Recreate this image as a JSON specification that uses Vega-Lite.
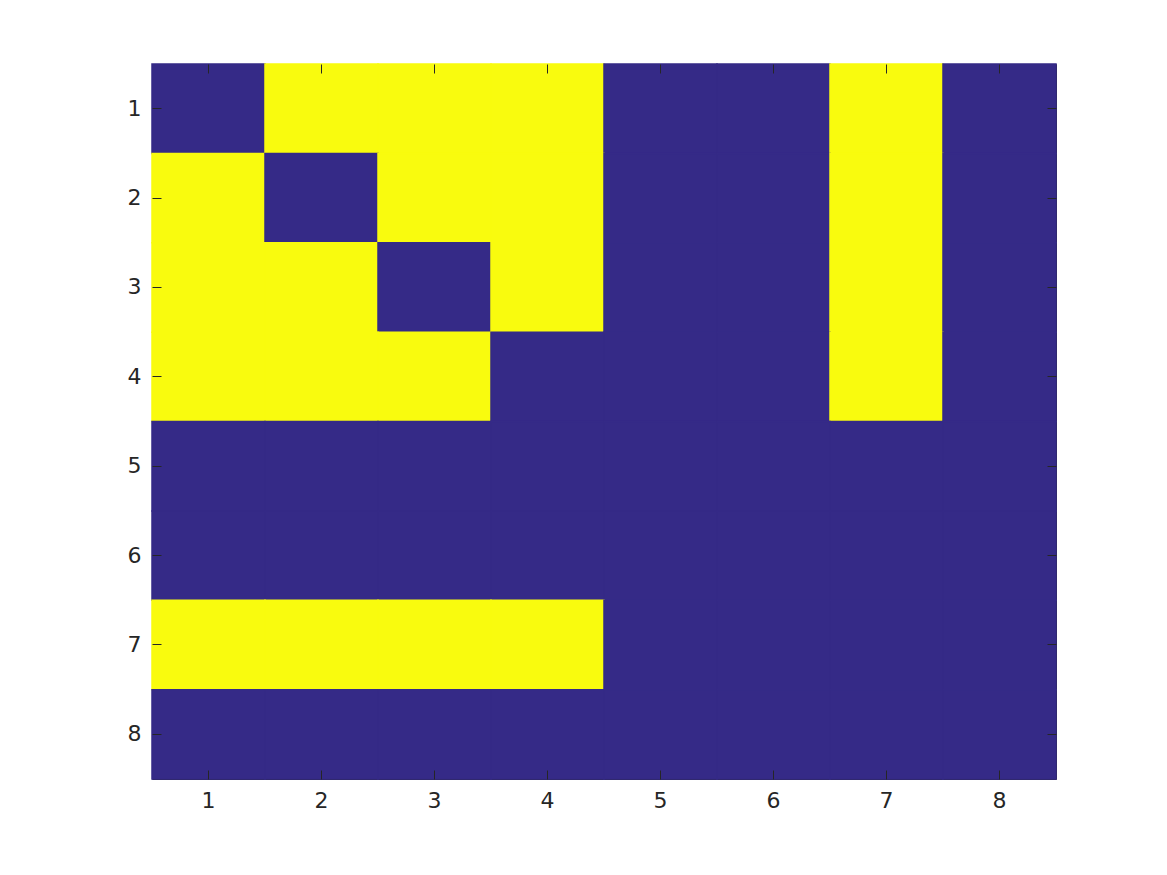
{
  "$schema": "https://vega.github.io/schema/vega-lite/v6.json",
  "autosize": {"type": "none"},
  "padding": {"left": 152, "top": 64, "right": 111, "bottom": 97},
  "width": 904,
  "height": 715,
  "background": "white",
  "config": {
    "view": {"stroke": "#262626", "strokeWidth": 1},
    "axis": {
      "labelFont": "DejaVu Sans",
      "labelFontSize": 22,
      "labelColor": "#262626",
      "tickColor": "#262626",
      "domain": false,
      "grid": false,
      "title": null,
      "labelAngle": 0
    }
  },
  "data": {"values": [
    {"row": 1, "col": 1, "v": 0}, {"row": 1, "col": 2, "v": 1}, {"row": 1, "col": 3, "v": 1}, {"row": 1, "col": 4, "v": 1}, {"row": 1, "col": 5, "v": 0}, {"row": 1, "col": 6, "v": 0}, {"row": 1, "col": 7, "v": 1}, {"row": 1, "col": 8, "v": 0},
    {"row": 2, "col": 1, "v": 1}, {"row": 2, "col": 2, "v": 0}, {"row": 2, "col": 3, "v": 1}, {"row": 2, "col": 4, "v": 1}, {"row": 2, "col": 5, "v": 0}, {"row": 2, "col": 6, "v": 0}, {"row": 2, "col": 7, "v": 1}, {"row": 2, "col": 8, "v": 0},
    {"row": 3, "col": 1, "v": 1}, {"row": 3, "col": 2, "v": 1}, {"row": 3, "col": 3, "v": 0}, {"row": 3, "col": 4, "v": 1}, {"row": 3, "col": 5, "v": 0}, {"row": 3, "col": 6, "v": 0}, {"row": 3, "col": 7, "v": 1}, {"row": 3, "col": 8, "v": 0},
    {"row": 4, "col": 1, "v": 1}, {"row": 4, "col": 2, "v": 1}, {"row": 4, "col": 3, "v": 1}, {"row": 4, "col": 4, "v": 0}, {"row": 4, "col": 5, "v": 0}, {"row": 4, "col": 6, "v": 0}, {"row": 4, "col": 7, "v": 1}, {"row": 4, "col": 8, "v": 0},
    {"row": 5, "col": 1, "v": 0}, {"row": 5, "col": 2, "v": 0}, {"row": 5, "col": 3, "v": 0}, {"row": 5, "col": 4, "v": 0}, {"row": 5, "col": 5, "v": 0}, {"row": 5, "col": 6, "v": 0}, {"row": 5, "col": 7, "v": 0}, {"row": 5, "col": 8, "v": 0},
    {"row": 6, "col": 1, "v": 0}, {"row": 6, "col": 2, "v": 0}, {"row": 6, "col": 3, "v": 0}, {"row": 6, "col": 4, "v": 0}, {"row": 6, "col": 5, "v": 0}, {"row": 6, "col": 6, "v": 0}, {"row": 6, "col": 7, "v": 0}, {"row": 6, "col": 8, "v": 0},
    {"row": 7, "col": 1, "v": 1}, {"row": 7, "col": 2, "v": 1}, {"row": 7, "col": 3, "v": 1}, {"row": 7, "col": 4, "v": 1}, {"row": 7, "col": 5, "v": 0}, {"row": 7, "col": 6, "v": 0}, {"row": 7, "col": 7, "v": 0}, {"row": 7, "col": 8, "v": 0},
    {"row": 8, "col": 1, "v": 0}, {"row": 8, "col": 2, "v": 0}, {"row": 8, "col": 3, "v": 0}, {"row": 8, "col": 4, "v": 0}, {"row": 8, "col": 5, "v": 0}, {"row": 8, "col": 6, "v": 0}, {"row": 8, "col": 7, "v": 0}, {"row": 8, "col": 8, "v": 0}
  ]},
  "layer": [
    {
      "mark": {"type": "rect", "strokeWidth": 1.5, "strokeOpacity": 1},
      "encoding": {
        "x": {"field": "col", "type": "ordinal", "scale": {"paddingInner": 0, "paddingOuter": 0},
              "axis": {"orient": "bottom", "tickSize": -9, "labelPadding": 20, "labelFontSize": 22}},
        "y": {"field": "row", "type": "ordinal", "scale": {"paddingInner": 0, "paddingOuter": 0},
              "axis": {"orient": "left", "tickSize": -9, "labelPadding": 20, "labelFontSize": 22}},
        "fill": {"field": "v", "type": "nominal", "legend": null,
                  "scale": {"domain": [0, 1], "range": ["#352A87", "#F9FB0E"]}},
        "stroke": {"field": "v", "type": "nominal", "legend": null,
                  "scale": {"domain": [0, 1], "range": ["#352A87", "#F9FB0E"]}}
      }
    },
    {
      "mark": {"type": "rect", "opacity": 0},
      "encoding": {
        "x": {"field": "col", "type": "ordinal", "axis": {"orient": "top", "tickSize": -9, "labels": false}},
        "y": {"field": "row", "type": "ordinal", "axis": {"orient": "right", "tickSize": -9, "labels": false}}
      }
    }
  ],
  "resolve": {"axis": {"x": "independent", "y": "independent"}}
}
